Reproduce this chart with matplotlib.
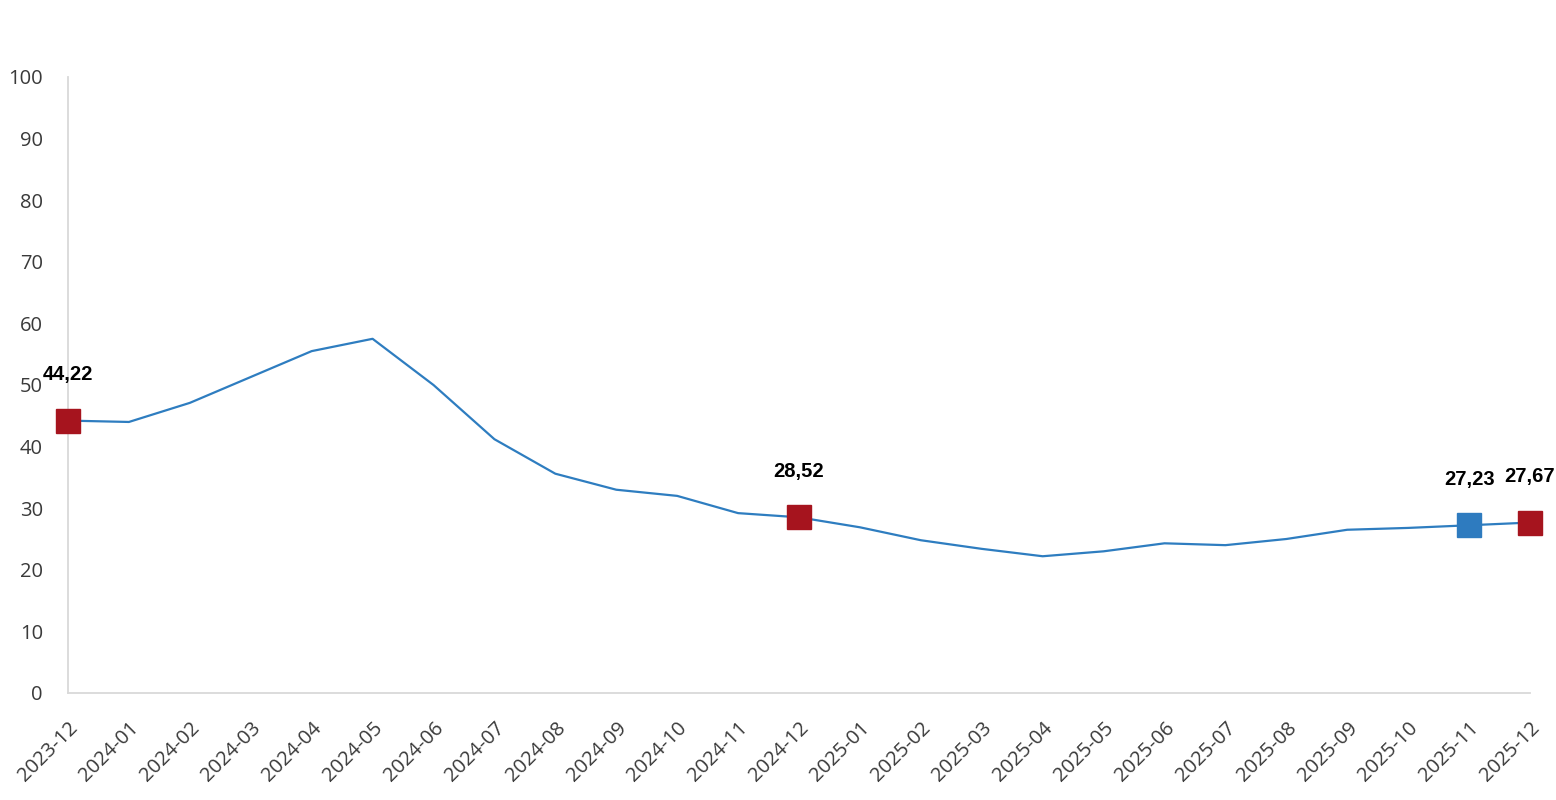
import matplotlib
matplotlib.use("Agg")
import matplotlib.pyplot as plt
from matplotlib.transforms import ScaledTranslation

months = ["2023-12", "2024-01", "2024-02", "2024-03", "2024-04", "2024-05", "2024-06",
          "2024-07", "2024-08", "2024-09", "2024-10", "2024-11", "2024-12", "2025-01",
          "2025-02", "2025-03", "2025-04", "2025-05", "2025-06", "2025-07", "2025-08",
          "2025-09", "2025-10", "2025-11", "2025-12"]
values = [44.22, 44.0, 47.1, 51.3, 55.5, 57.5, 50.0, 41.2, 35.6, 33.0, 32.0, 29.2, 28.52,
          26.9, 24.8, 23.4, 22.2, 23.0, 24.3, 24.0, 25.0, 26.5, 26.8, 27.23, 27.67]
red_marks = ["2023-12", "2024-12", "2025-12"]
blue_marks = ["2025-11"]
yticks = [0, 10, 20, 30, 40, 50, 60, 70, 80, 90, 100]

LINE = "#2E7DC0"
RED = "#A6141E"
BLUE = "#2E7BBF"
GRID = "#D9D9D9"

fig = plt.figure(figsize=(15.56, 8), dpi=100)
ax = fig.add_axes([68/1556, 107/800, (1530-68)/1556, (693-77)/800])

x = list(range(len(months)))
ax.plot(x, values, color=LINE, lw=1.6, zorder=2)

for m in red_marks + blue_marks:
    i = months.index(m)
    c = RED if m in red_marks else BLUE
    ax.plot([i], [values[i]], marker="s", ms=17, color=c, mec=c, zorder=3, clip_on=False)
    ax.annotate(f"{values[i]:.2f}".replace(".", ","), (i, values[i]), xytext=(0, 33),
                textcoords="offset points", ha="center", va="center",
                fontsize=14.5, fontweight="bold", family="Liberation Sans", color="black")

ax.set_xlim(0, len(months) - 1)
ax.set_ylim(0, 100)
ax.set_yticks(yticks)
ax.set_xticks(x)
ax.set_xticklabels(months, rotation=45, ha="right", rotation_mode="anchor")
off = ScaledTranslation(14/100, -14/100, fig.dpi_scale_trans)
for lab in ax.get_xticklabels():
    lab.set_fontfamily("Open Sans")
    lab.set_fontsize(14.5)
    lab.set_color("#3a3a3a")
    lab.set_transform(lab.get_transform() + off)
for lab in ax.get_yticklabels():
    lab.set_fontfamily("Open Sans")
    lab.set_fontsize(14.5)
    lab.set_color("#3a3a3a")
ax.tick_params(axis="both", length=0)
ax.tick_params(axis="y", pad=18)
ax.tick_params(axis="x", pad=18)
for s in ["top", "right"]:
    ax.spines[s].set_visible(False)
for s in ["left", "bottom"]:
    ax.spines[s].set_color(GRID)
    ax.spines[s].set_linewidth(1.3)

fig.savefig("out.png", dpi=100)
